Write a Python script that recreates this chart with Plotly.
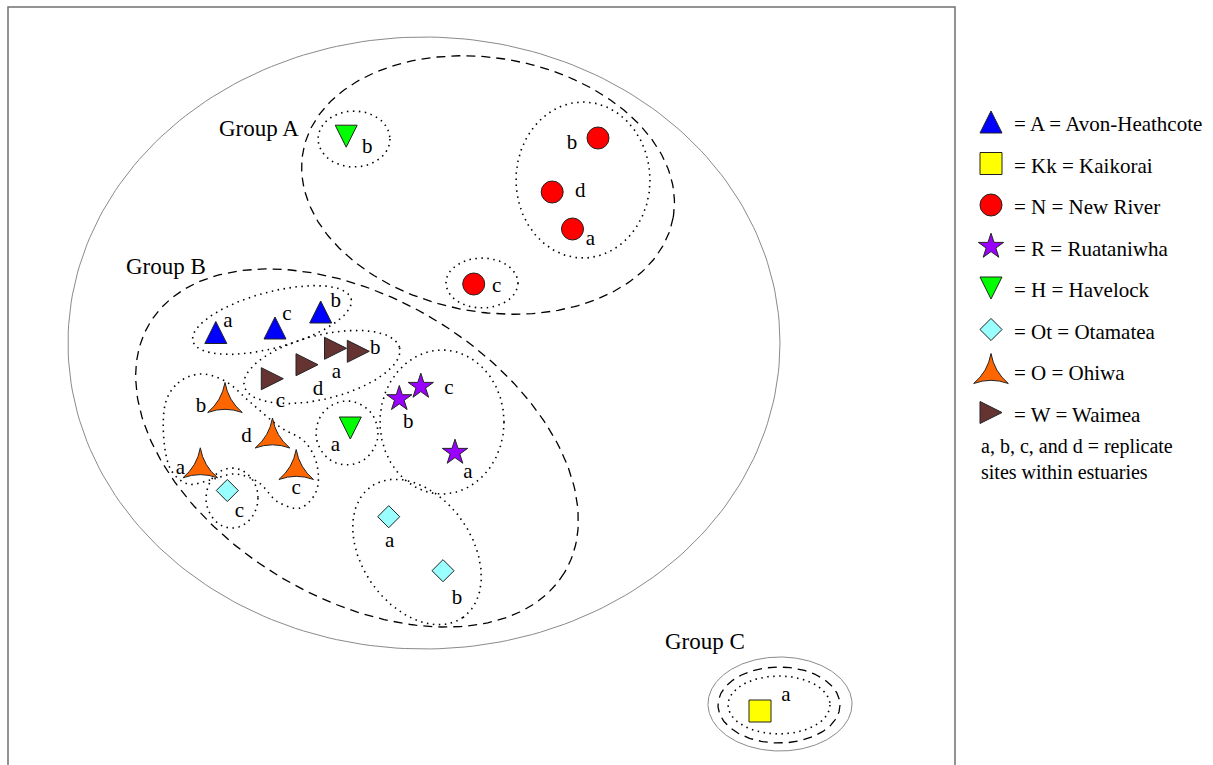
import numpy as np
import plotly.graph_objects as go

# ---------------- data (MDS ordination; screen units) ----------------
avon_site = ["a", "c", "b"]
avon_x = [215.8, 275.0, 320.7]
avon_y = [332.5, 328.0, 312.0]

kaikorai_site = ["a"]
kaikorai_x = [760.0]
kaikorai_y = [711.0]

newriver_site = ["b", "d", "a", "c"]
newriver_x = [598.0, 552.2, 572.5, 473.7]
newriver_y = [138.0, 192.0, 229.0, 284.0]

ruataniwha_site = ["c", "b", "a"]
ruataniwha_x = [420.8, 399.3, 455.0]
ruataniwha_y = [386.5, 398.8, 452.5]

havelock_site = ["b", "a"]
havelock_x = [346.2, 350.3]
havelock_y = [136.2, 428.0]

otamatea_site = ["a", "b", "c"]
otamatea_x = [388.7, 443.0, 227.3]
otamatea_y = [516.7, 570.7, 490.5]

ohiwa_site = ["b", "d", "a", "c"]
ohiwa_x = [225.0, 272.5, 200.3, 296.2]
ohiwa_y = [400.0, 435.5, 465.3, 467.0]

waimea_site = ["a", "b", "d", "c"]
waimea_x = [335.5, 358.3, 307.0, 272.3]
waimea_y = [348.3, 351.3, 364.7, 378.7]

legend_names = ["Avon-Heathcote", "Kaikorai", "New River", "Ruataniwha",
                "Havelock", "Otamatea", "Ohiwa", "Waimea"]
legend_codes = ["A", "Kk", "N", "R", "H", "Ot", "O", "W"]

# ---------------- styles / layout helpers ----------------
W, H = 1213, 765
FONT = "Liberation Serif, Times New Roman, serif"

STYLE = {
    "Avon-Heathcote": dict(symbol="arrow-up", size=22, color="#0000FF"),
    "Kaikorai": dict(symbol="square", size=22, color="#FFFF00"),
    "New River": dict(symbol="circle", size=22, color="#FF0000"),
    "Ruataniwha": dict(symbol="star", size=19, color="#9900FF"),
    "Havelock": dict(symbol="arrow-down", size=22, color="#00FF00"),
    "Otamatea": dict(symbol="diamond", size=17, color="#99FFFF"),
    "Ohiwa": dict(symbol="star-triangle-up", size=25, color="#FF6600"),
    "Waimea": dict(symbol="arrow-right", size=22, color="#663333"),
}

# label offsets (dx, dy) of the replicate-site letter from each symbol
LABEL_OFF = {
    "Avon-Heathcote": [(12, -11), (12, -13), (15, -10)],
    "Kaikorai": [(26, -15)],
    "New River": [(-26, 6), (28, 0), (18, 11), (23, 3)],
    "Ruataniwha": [(28, 2), (9, 24), (13, 20)],
    "Havelock": [(21, 12), (-15, 18)],
    "Otamatea": [(1, 25), (14, 28), (12, 21)],
    "Ohiwa": [(-24, 7), (-26, 1), (-20, 3), (0, 22)],
    "Waimea": [(1, 24), (17, -3), (11, 25), (8, 23)],
}

DATA = {
    "Avon-Heathcote": (avon_x, avon_y, avon_site),
    "Kaikorai": (kaikorai_x, kaikorai_y, kaikorai_site),
    "New River": (newriver_x, newriver_y, newriver_site),
    "Ruataniwha": (ruataniwha_x, ruataniwha_y, ruataniwha_site),
    "Havelock": (havelock_x, havelock_y, havelock_site),
    "Otamatea": (otamatea_x, otamatea_y, otamatea_site),
    "Ohiwa": (ohiwa_x, ohiwa_y, ohiwa_site),
    "Waimea": (waimea_x, waimea_y, waimea_site),
}


def anchor(symbol, size, x, y):
    """Shift so the drawn glyph is centred on the site (arrow glyphs have tip at origin)."""
    r = size / 2.0
    x = np.asarray(x, float)
    y = np.asarray(y, float)
    if symbol == "arrow-up":
        return x, y - r
    if symbol == "arrow-down":
        return x, y + r
    if symbol == "arrow-right":
        return x + r, y
    if symbol == "star-triangle-up":
        return x, y + 0.2 * r
    return x, y


def ellipse(cx, cy, rx, ry, ang=0.0, n=260):
    t = np.linspace(0, 2 * np.pi, n)
    a = np.deg2rad(ang)
    x = cx + rx * np.cos(t) * np.cos(a) - ry * np.sin(t) * np.sin(a)
    y = cy + rx * np.cos(t) * np.sin(a) + ry * np.sin(t) * np.cos(a)
    return x, y


OUTER = dict(color="#8a8a8a", width=1.0)
DASH = dict(color="black", width=1.3, dash="9px,6px")
DOT = dict(color="black", width=1.6, dash="1.5px,4.5px")

# similarity envelopes: (cx, cy, rx, ry, angle, style)
ENVELOPES = [
    (424, 343, 356, 306, 0, OUTER),
    (488, 185, 188, 127, 10, DASH),       # Group A
    (357, 448, 242, 150, 31, DASH),       # Group B
    (780, 704, 72, 47, 0, OUTER),         # Group C
    (779, 705, 61, 38, 0, DASH),
    (779, 705, 51, 29, 0, DOT),
    (354, 139, 36, 28, 0, DOT),           # Havelock b
    (583, 180, 67, 78, 0, DOT),           # New River a,b,d
    (482, 283, 36, 25, 0, DOT),           # New River c
    (272, 320, 82, 28, -15, DOT),         # Avon
    (322, 367, 80, 32, -14, DOT),         # Waimea
    (347, 433, 31, 32, 0, DOT),           # Havelock a
    (442, 422, 62, 72, 0, DOT),           # Ruataniwha
    (232, 498, 26, 30, 0, DOT),           # Otamatea c
    (417, 552, 80, 55, 55, DOT),          # Otamatea a,b
]
# irregular envelope round the Ohiwa sites (outline guide points)
OHIWA_ENV = [(165, 405), (178, 383), (200, 374), (225, 381), (250, 402), (280, 427),
             (305, 442), (317, 465), (316, 492), (300, 508), (278, 502), (258, 482),
             (235, 474), (210, 480), (188, 484), (170, 468)]

fig = go.Figure()

# plot frame
fig.add_shape(type="path", path="M8,800 L8,7 L955,7 L955,800",
              line=dict(color="#707070", width=1.5), xref="x", yref="y")

for cx, cy, rx, ry, ang, st in ENVELOPES:
    ex, ey = ellipse(cx, cy, rx, ry, ang)
    fig.add_trace(go.Scatter(x=ex, y=ey, mode="lines", line=st, hoverinfo="skip"))

ox = [p[0] for p in OHIWA_ENV] + [OHIWA_ENV[0][0]]
oy = [p[1] for p in OHIWA_ENV] + [OHIWA_ENV[0][1]]
fig.add_trace(go.Scatter(x=ox, y=oy, mode="lines",
                         line=dict(color="black", width=1.6, dash="1.5px,4.5px",
                                   shape="spline", smoothing=1.0), hoverinfo="skip"))

# sites
for name in legend_names:
    xs, ys, sites = DATA[name]
    st = STYLE[name]
    px, py = anchor(st["symbol"], st["size"], xs, ys)
    fig.add_trace(go.Scatter(
        x=px, y=py, mode="markers", name=name,
        marker=dict(symbol=st["symbol"], size=st["size"], color=st["color"],
                    line=dict(color="#222222", width=1)),
        hoverinfo="skip"))
    offs = LABEL_OFF[name]
    lx = [x + o[0] for x, o in zip(xs, offs)]
    ly = [y + o[1] for y, o in zip(ys, offs)]
    fig.add_trace(go.Scatter(x=lx, y=ly, mode="text", text=sites,
                             textposition="middle center",
                             textfont=dict(family=FONT, size=21, color="black"),
                             hoverinfo="skip"))

# group labels
for txt, gx, gy in [("Group A", 259, 128), ("Group B", 166, 266), ("Group C", 705, 641)]:
    fig.add_annotation(x=gx, y=gy, text=txt, showarrow=False,
                       font=dict(family=FONT, size=23, color="black"))

# legend (drawn by hand on the right)
LEG_X, LEG_Y0, LEG_DY = 991, 122, 41.5
for i, (name, code) in enumerate(zip(legend_names, legend_codes)):
    st = STYLE[name]
    yy = LEG_Y0 + i * LEG_DY
    px, py = anchor(st["symbol"], st["size"], [LEG_X], [yy])
    fig.add_trace(go.Scatter(
        x=px, y=py, mode="markers",
        marker=dict(symbol=st["symbol"], size=st["size"], color=st["color"],
                    line=dict(color="#222222", width=1)),
        hoverinfo="skip"))
    fig.add_annotation(x=1012, y=yy + 2, text=f"= {code} = {name}", showarrow=False,
                       xanchor="left", yanchor="middle",
                       font=dict(family=FONT, size=21, color="black"))

fig.add_annotation(x=979, y=459, text="a, b, c, and d = replicate<br>sites within estuaries",
                   showarrow=False, xanchor="left", yanchor="middle", align="left",
                   font=dict(family=FONT, size=20, color="black"))

fig.update_layout(
    width=W, height=H, margin=dict(l=0, r=0, t=0, b=0),
    paper_bgcolor="white", plot_bgcolor="white", showlegend=False,
    xaxis=dict(range=[0, W], visible=False, fixedrange=True),
    yaxis=dict(range=[H, 0], visible=False, fixedrange=True),
)

fig.write_html("out.html", config={"displayModeBar": False},
               post_script="document.body.style.margin='0';")
